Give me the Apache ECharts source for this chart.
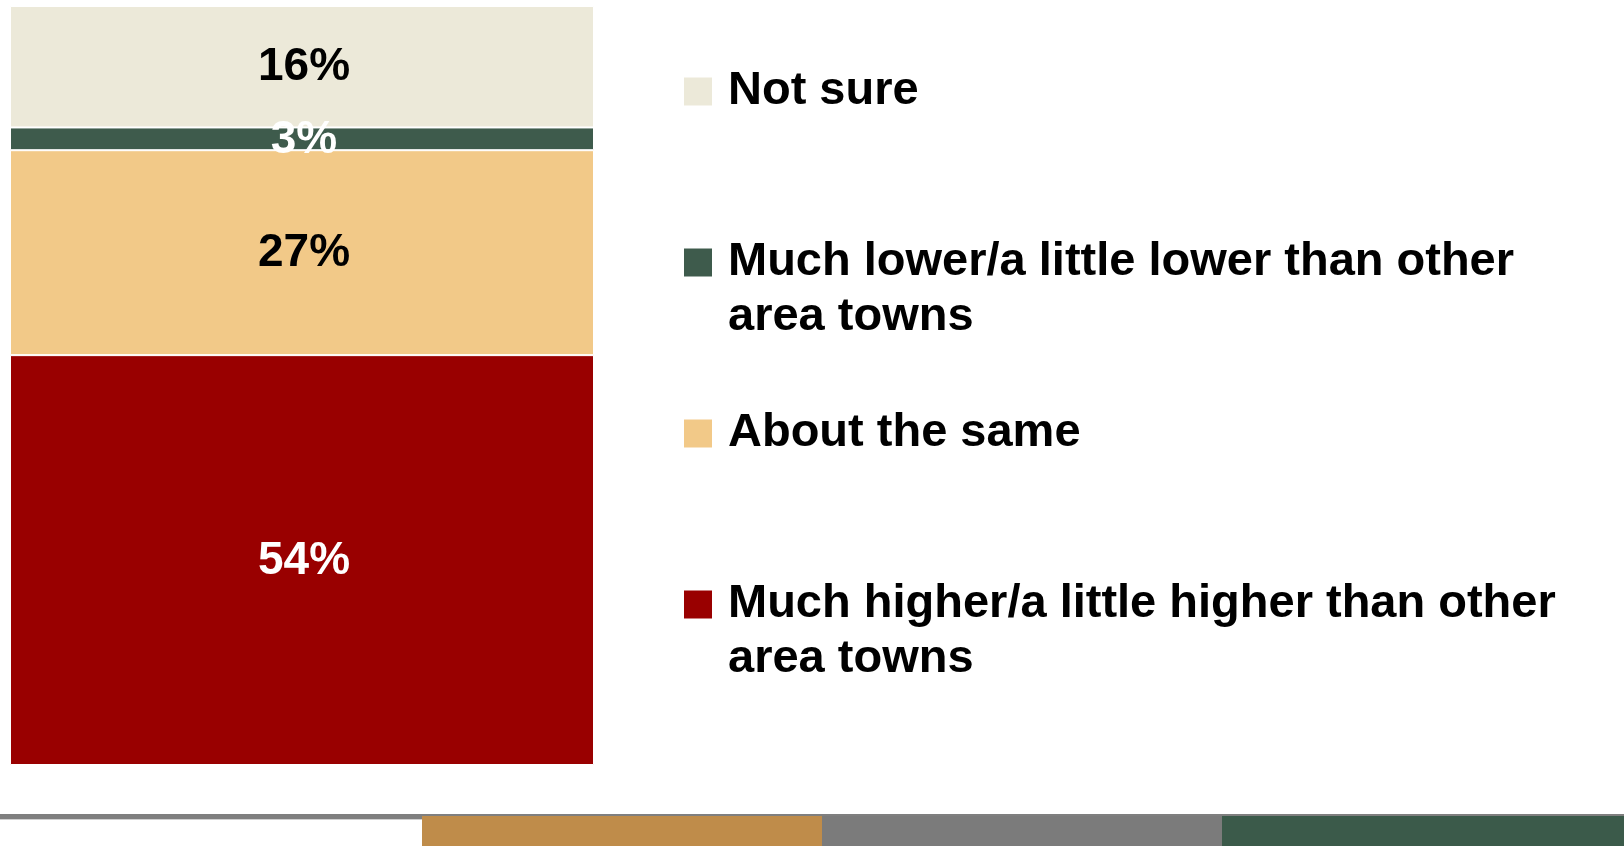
<!DOCTYPE html>
<html>
<head>
<meta charset="utf-8">
<script src="https://cdn.jsdelivr.net/npm/echarts@6/dist/echarts.min.js"></script>
<style>
html,body{margin:0;padding:0;background:#fff;}
#chart{width:1624px;height:846px;}
</style>
</head>
<body>
<div id="chart"></div>
<script>
// Data (stack order from bottom to top)
const categories = ['Total'];
const seriesNames = [
  'Much higher/a little higher than other area towns',
  'About the same',
  'Much lower/a little lower than other area towns',
  'Not sure'
];
const valHigher = [54];
const valSame = [27];
const valLower = [3];
const valNotSure = [16];
const legendOrder = [
  'Not sure',
  'Much lower/a little lower than other area towns',
  'About the same',
  'Much higher/a little higher than other area towns'
];
// leading empty line keeps the marker aligned with the first visible line
const legendText = {
  'Not sure': 'Not sure',
  'Much lower/a little lower than other area towns': '\nMuch lower/a little lower than other\narea towns',
  'About the same': 'About the same',
  'Much higher/a little higher than other area towns': '\nMuch higher/a little higher than other\narea towns'
};

const colors = ['#990000', '#F2C988', '#3E5B4C', '#ECE9D9'];
const labelColors = ['#ffffff', '#000000', '#ffffff', '#000000'];
const values = [valHigher, valSame, valLower, valNotSure];
const FONT = '"Liberation Sans", Arial, sans-serif';

const chart = echarts.init(document.getElementById('chart'), null, {renderer: 'canvas'});

const series = seriesNames.map((n, i) => ({
  name: n,
  type: 'bar',
  stack: 'total',
  barWidth: '100%',
  data: values[i],
  itemStyle: {color: colors[i], borderColor: '#ffffff', borderWidth: 1},
  label: {
    show: true,
    position: 'inside',
    formatter: '{c}%',
    fontFamily: FONT,
    fontSize: 46,
    fontWeight: 'bold',
    color: labelColors[i],
    offset: [2, 1]
  },
  emphasis: {disabled: true}
}));

chart.setOption({
  animation: false,
  backgroundColor: '#ffffff',
  grid: {left: 10, right: 1030, top: 6, bottom: 81},
  xAxis: {type: 'category', data: categories, show: false},
  yAxis: {type: 'value', min: 0, max: 100, show: false},
  legend: {
    orient: 'vertical',
    left: 684,
    top: 64,
    padding: 0,
    itemGap: 61,
    itemWidth: 28,
    itemHeight: 28,
    icon: 'rect',
    selectedMode: false,
    itemStyle: {borderWidth: 0},
    formatter: name => legendText[name],
    textStyle: {
      fontFamily: FONT,
      fontSize: 47,
      fontWeight: 'bold',
      color: '#000000',
      lineHeight: 55,
      padding: [0, 0, 0, 11]
    },
    data: legendOrder
  },
  graphic: [
    {type: 'rect', left: 0, top: 814, shape: {width: 1624, height: 5}, style: {fill: '#7F7F7F'}, silent: true},
    {type: 'rect', left: 0, top: 819, shape: {width: 422, height: 1}, style: {fill: '#D0D0D0'}, silent: true},
    {type: 'rect', left: 422, top: 816, shape: {width: 400, height: 30}, style: {fill: '#BF8C4A'}, silent: true},
    {type: 'rect', left: 822, top: 816, shape: {width: 400, height: 30}, style: {fill: '#7B7B7B'}, silent: true},
    {type: 'rect', left: 1222, top: 816, shape: {width: 402, height: 30}, style: {fill: '#3B5A4A'}, silent: true}
  ],
  series: series
});
</script>
</body>
</html>
